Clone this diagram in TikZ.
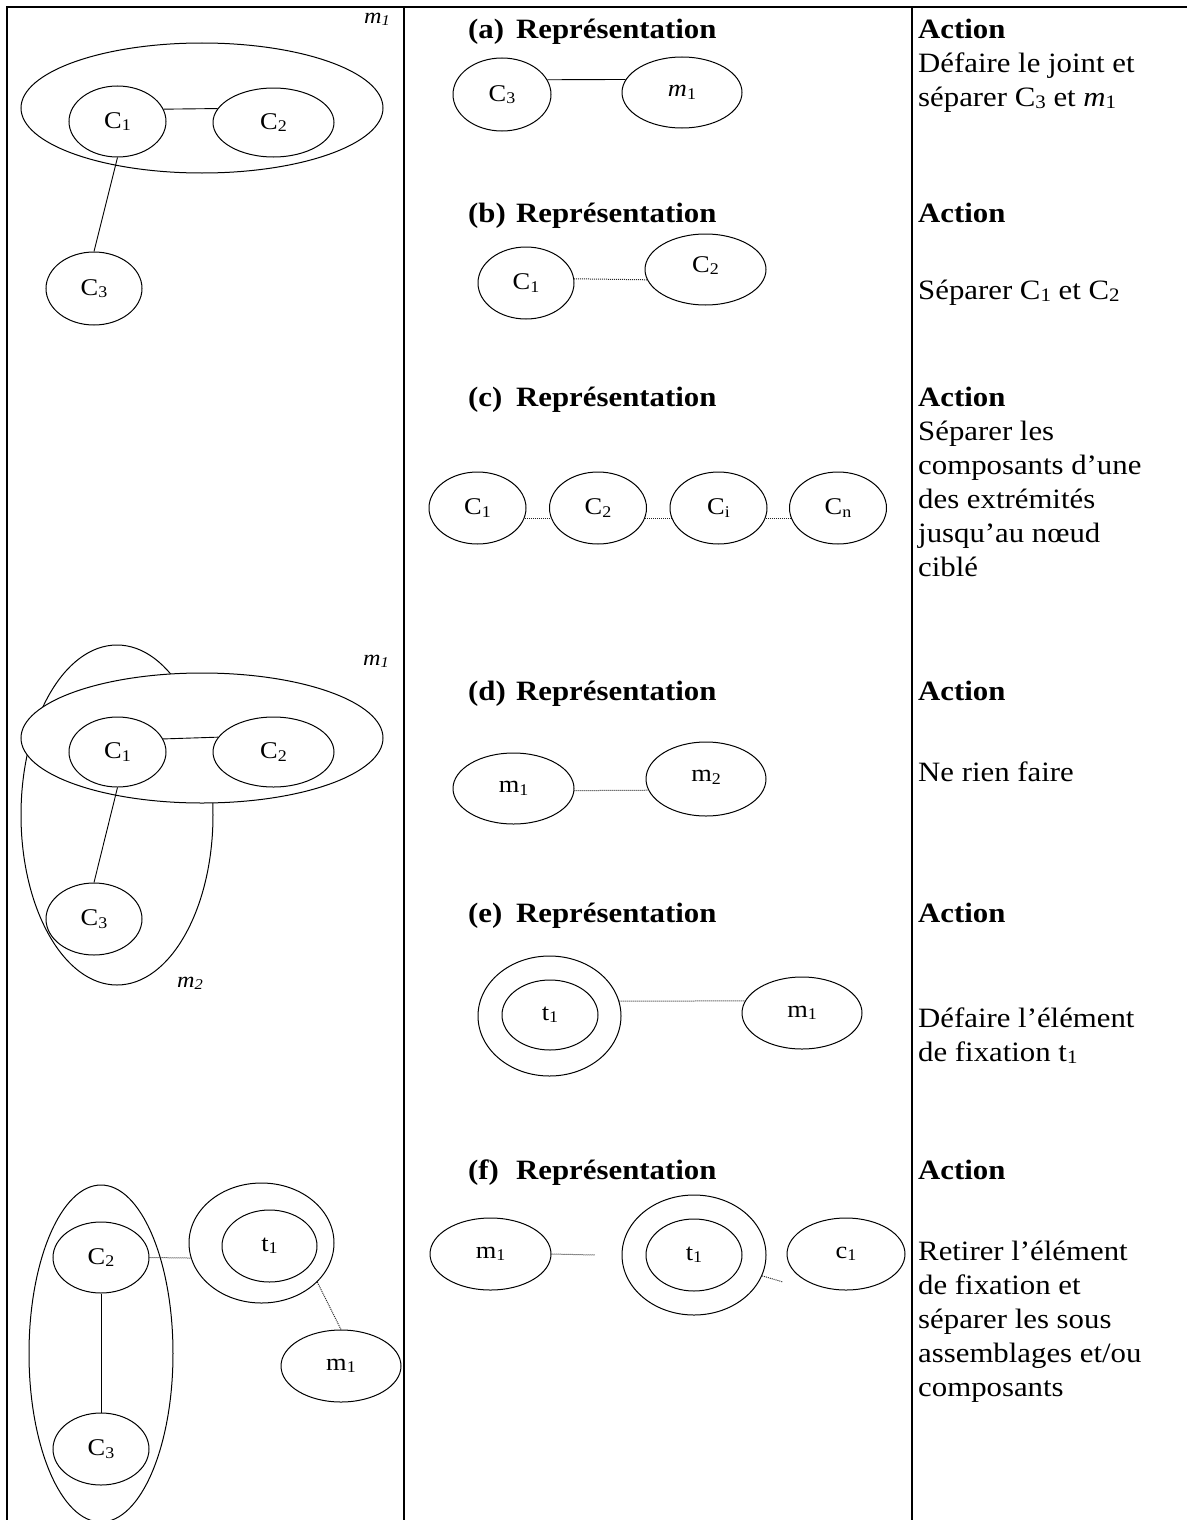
\documentclass[tikz,border=0pt]{standalone}
\usepackage{fontspec}
\usepackage{graphicx}
\setmainfont{Liberation Serif}[FakeStretch=1.1]
\usetikzlibrary{shapes.geometric}
\newcommand\sbs[1]{\raisebox{-0.1em}{\scalebox{0.68}{#1}}}
\newcommand\bodyf{\fontsize{28}{34}\selectfont}
\newcommand\labf{\fontsize{24}{28}\selectfont}
\newcommand\tagf{\fontsize{22}{26}\selectfont\itshape}
\begin{document}
\begin{tikzpicture}[x=1pt,y=-1pt,
  ell/.style={draw, ellipse, inner sep=0pt, line width=1pt, font=\labf},
  sz/.style 2 args={minimum width=#1pt, minimum height=#2pt},
  txt/.style={anchor=base west, inner sep=0pt, font=\bodyf},
  hdr/.style={anchor=base west, inner sep=0pt, font=\bodyf\bfseries},
  tag/.style={inner sep=0pt, font=\tagf},
  link/.style={line width=0.9pt},
  dlink/.style={line width=1pt, densely dotted, black!85},
  rule/.style={line width=2.2pt}]
\useasboundingbox (0,0) rectangle (1186,1520);
% table rules
\draw[rule] (7,1530) -- (7,7) -- (1195,7);
\draw[rule] (404,7) -- (404,1530);
\draw[rule] (912,7) -- (912,1530);

% ---------- row (a) left
\node[ell, sz={362}{130}] (am1) at (202,108) {};
\node[ell, sz={97}{71}] (aC1) at (117.5,121.5) {C\sbs{1}};
\node[ell, sz={121}{69}] (aC2) at (273.5,122.5) {C\sbs{2}};
\node[ell, sz={96}{73}] (aC3) at (94,288.5) {C\sbs{3}};
\node[tag] (aml) at (377,19) {m\sbs{1}};
\draw[link] (aC1.15) -- (aC2.166);
\draw[link] (aC1.south) -- (aC3.north);

% ---------- row (a) middle
\node[hdr] (ha) at (468,38) {(a)};
\node[hdr] (hat) at (516,38) {Représentation};
\node[ell, sz={98}{73}] (maC3) at (502,94.5) {C\sbs{3}};
\node[ell, sz={120}{71}] (mam1) at (682,92.5) {\textit{m}\sbs{1}};
\draw[link] (maC3.18) -- (mam1.167);

% ---------- row (b) middle
\node[hdr] (hb) at (468,222) {(b)};
\node[hdr] (hbt) at (516,222) {Représentation};
\node[ell, sz={96}{72}] (mbC1) at (526,283) {C\sbs{1}};
\node[ell, sz={121}{71}, text depth=10pt] (mbC2) at (705.5,269.5) {C\sbs{2}};
\draw[dlink] (mbC1.5) -- (mbC2.190);

% ---------- row (c) middle
\node[hdr] (hc) at (468,406) {(c)};
\node[hdr] (hct) at (516,406) {Représentation};
\node[ell, sz={97}{72}] (cC1) at (477.5,508) {C\sbs{1}};
\node[ell, sz={97}{72}] (cC2) at (598,508) {C\sbs{2}};
\node[ell, sz={97}{72}] (cCi) at (718.5,508) {C\sbs{i}};
\node[ell, sz={97}{72}] (cCn) at (838,508) {C\sbs{n}};
\draw[dlink] (cC1.-12) -- (cC2.192);
\draw[dlink] (cC2.-12) -- (cCi.192);
\draw[dlink] (cCi.-12) -- (cCn.192);

% ---------- row (d) left
\node[ell, sz={192}{340}] (dm2) at (117,815) {};
\node[ell, fill=white, sz={362}{130}] (dm1) at (202,738) {};
\node[ell, sz={97}{70}] (dC1) at (117.5,752) {C\sbs{1}};
\node[ell, sz={121}{70}] (dC2) at (273.5,752) {C\sbs{2}};
\node[ell, sz={96}{72}] (dC3) at (94,919) {C\sbs{3}};
\node[tag] (dml) at (376,661) {m\sbs{1}};
\node[tag] (dm2l) at (190,983) {m\sbs{2}};
\draw[link] (dC1.16) -- (dC2.165);
\draw[link] (dC1.south) -- (dC3.north);

% ---------- row (d) middle
\node[hdr] (hd) at (468,700) {(d)};
\node[hdr] (hdt) at (516,700) {Représentation};
\node[ell, sz={121}{71}] (dmm1) at (513.5,788.5) {m\sbs{1}};
\node[ell, sz={120}{74}, text depth=6pt] (dmm2) at (706,779) {m\sbs{2}};
\draw[dlink] (dmm1.-2) -- (dmm2.191);

% ---------- row (e) middle
\node[hdr] (he) at (468,922) {(e)};
\node[hdr] (het) at (516,922) {Représentation};
\node[ell, sz={143}{120}] (et1o) at (549.5,1016) {};
\node[ell, sz={96}{70}] (et1) at (550,1015) {t\sbs{1}};
\node[ell, sz={120}{72}] (em1) at (802,1013) {m\sbs{1}};
\draw[dlink] (et1o.12) -- (em1.168);

% ---------- row (f) left
\node[ell, sz={144}{337}] (fbig) at (101,1353.5) {};
\node[ell, sz={96}{71}] (fC2) at (101,1257.5) {C\sbs{2}};
\node[ell, sz={96}{72}] (fC3) at (101,1449) {C\sbs{3}};
\node[ell, sz={145}{120}] (ft1o) at (261.5,1243) {};
\node[ell, sz={95}{72}] (ft1) at (269.5,1246) {t\sbs{1}};
\node[ell, sz={120}{72}] (fm1) at (341,1366) {m\sbs{1}};
\draw[link] (fC2.south) -- (fC3.north);
\draw[dlink] (fC2.east) -- (ft1o.192);
\draw[dlink] (ft1o.-35) -- (fm1.north);

% ---------- row (f) middle
\node[hdr] (hf) at (468,1179) {(f)};
\node[hdr] (hft) at (516,1179) {Représentation};
\node[ell, sz={121}{72}] (fmm1) at (490.5,1254) {m\sbs{1}};
\coordinate (fe1) at (595,1255);
\node[ell, sz={144}{120}] (fmt1o) at (694,1255) {};
\node[ell, sz={96}{72}] (fmt1) at (694,1255) {t\sbs{1}};
\node[ell, sz={118}{72}] (fmc1) at (846,1254) {c\sbs{1}};
\coordinate (fe2) at (783,1282);
\draw[dlink] (fmm1.east) -- (fe1);
\draw[dlink] (fmt1o.-17) -- (fe2);

% ---------- right column
\node[hdr] (ra0) at (918,38) {Action};
\node[txt] (ra1) at (918,72) {Défaire le joint et};
\node[txt] (ra2) at (918,106) {séparer C\sbs{3} et \textit{m}\sbs{1}};
\node[hdr] (rb0) at (918,222) {Action};
\node[txt] (rb1) at (918,299) {Séparer C\sbs{1} et C\sbs{2}};
\node[hdr] (rc0) at (918,406) {Action};
\node[txt] (rc1) at (918,440) {Séparer les};
\node[txt] (rc2) at (918,474) {composants d’une};
\node[txt] (rc3) at (918,508) {des extrémités};
\node[txt] (rc4) at (918,542) {jusqu’au nœud};
\node[txt] (rc5) at (918,576) {ciblé};
\node[hdr] (rd0) at (918,700) {Action};
\node[txt] (rd1) at (918,781) {Ne rien faire};
\node[hdr] (re0) at (918,922) {Action};
\node[txt] (re1) at (918,1027) {Défaire l’élément};
\node[txt] (re2) at (918,1061) {de fixation t\sbs{1}};
\node[hdr] (rf0) at (918,1179) {Action};
\node[txt] (rf1) at (918,1260) {Retirer l’élément};
\node[txt] (rf2) at (918,1294) {de fixation et};
\node[txt] (rf3) at (918,1328) {séparer les sous};
\node[txt] (rf4) at (918,1362) {assemblages et/ou};
\node[txt] (rf5) at (918,1396) {composants};
\end{tikzpicture}
\end{document}
